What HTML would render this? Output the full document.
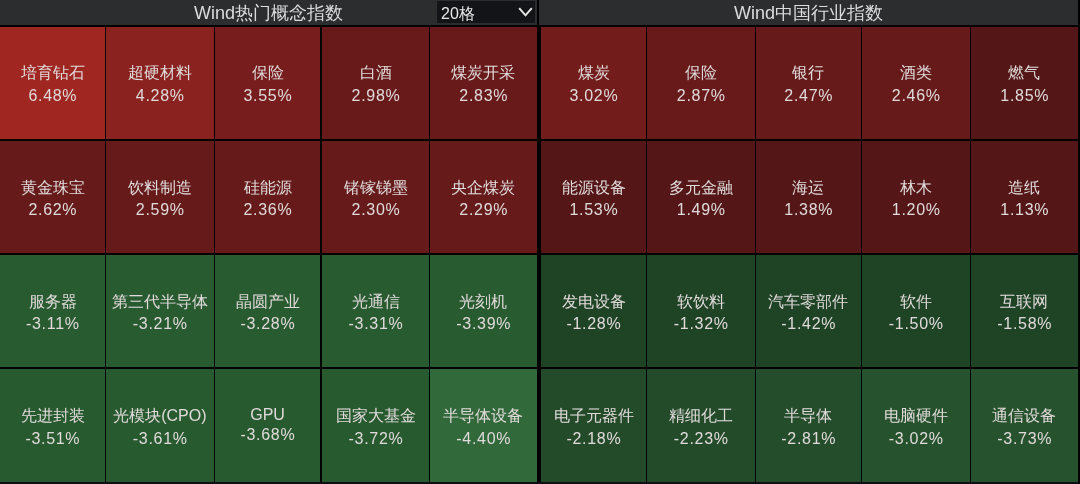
<!DOCTYPE html>
<html><head><meta charset="utf-8"><style>
html,body{margin:0;padding:0;}
body{width:1080px;height:484px;overflow:hidden;background:#000;position:relative;font-family:"Liberation Sans",sans-serif;}
.hdr{will-change:transform;position:absolute;top:0;height:25px;background:#2c2d2f;color:#dcdcdc;font-size:18px;line-height:27px;text-align:center;}
.c{position:absolute;box-sizing:border-box;color:#e0dada;font-size:16px;}
.t{position:absolute;left:0;right:0;top:50%;margin-top:-20.5px;text-align:center;will-change:transform;}
.n{height:23px;line-height:22px;white-space:nowrap}
.v{height:23px;line-height:22px;letter-spacing:0.7px;margin-right:-0.7px;white-space:nowrap}
.dd{will-change:transform;position:absolute;left:437px;top:1.3px;width:98.4px;height:22.3px;background:#131417;color:#e6e6e6;font-size:16px;line-height:22px;}
</style></head><body>
<div class="hdr" style="left:0;width:537.2px">Wind热门概念指数</div>
<div class="hdr" style="left:539px;width:539px">Wind中国行业指数</div>
<div class="dd"><span style="position:absolute;left:4px;top:1.6px">20格</span>
<svg style="position:absolute;left:81px;top:6.4px" width="15" height="10" viewBox="0 0 15 10"><path d="M1.2 1.1 L7.5 8.3 L13.8 1.1" fill="none" stroke="#e6e6e6" stroke-width="2"/></svg></div>
<div style="position:absolute;left:0;top:482px;width:1078px;height:2px;background:#0e0f13"></div>
<div class="c" style="left:0px;top:26.6px;width:105.00px;height:112.60px;background:#a02622"><div class="t"><div class="n">培育钻石</div><div class="v">6.48%</div></div></div><div class="c" style="left:106.2px;top:26.6px;width:107.80px;height:112.60px;background:#8a2220"><div class="t"><div class="n">超硬材料</div><div class="v">4.28%</div></div></div><div class="c" style="left:215.3px;top:26.6px;width:105.20px;height:112.60px;background:#771d1d"><div class="t"><div class="n">保险</div><div class="v">3.55%</div></div></div><div class="c" style="left:321.7px;top:26.6px;width:107.30px;height:112.60px;background:#681a1b"><div class="t"><div class="n">白酒</div><div class="v">2.98%</div></div></div><div class="c" style="left:430.3px;top:26.6px;width:106.90px;height:112.60px;background:#681a1b"><div class="t"><div class="n">煤炭开采</div><div class="v">2.83%</div></div></div><div class="c" style="left:540.8px;top:26.6px;width:105.20px;height:112.60px;background:#731c1c"><div class="t"><div class="n">煤炭</div><div class="v">3.02%</div></div></div><div class="c" style="left:647.2px;top:26.6px;width:107.80px;height:112.60px;background:#681a1b"><div class="t"><div class="n">保险</div><div class="v">2.87%</div></div></div><div class="c" style="left:756.2px;top:26.6px;width:104.80px;height:112.60px;background:#661a1a"><div class="t"><div class="n">银行</div><div class="v">2.47%</div></div></div><div class="c" style="left:862.2px;top:26.6px;width:107.80px;height:112.60px;background:#661a1a"><div class="t"><div class="n">酒类</div><div class="v">2.46%</div></div></div><div class="c" style="left:971.2px;top:26.6px;width:106.80px;height:112.60px;background:#541616"><div class="t"><div class="n">燃气</div><div class="v">1.85%</div></div></div><div class="c" style="left:0px;top:140.9px;width:105.00px;height:112.40px;background:#661a1a"><div class="t" style="margin-top:-20px"><div class="n">黄金珠宝</div><div class="v" style="margin-top:-1.4px">2.62%</div></div></div><div class="c" style="left:106.2px;top:140.9px;width:107.80px;height:112.40px;background:#661a1a"><div class="t" style="margin-top:-20px"><div class="n">饮料制造</div><div class="v" style="margin-top:-1.4px">2.59%</div></div></div><div class="c" style="left:215.3px;top:140.9px;width:105.20px;height:112.40px;background:#661a1a"><div class="t" style="margin-top:-20px"><div class="n">硅能源</div><div class="v" style="margin-top:-1.4px">2.36%</div></div></div><div class="c" style="left:321.7px;top:140.9px;width:107.30px;height:112.40px;background:#661a1a"><div class="t" style="margin-top:-20px"><div class="n">锗镓锑墨</div><div class="v" style="margin-top:-1.4px">2.30%</div></div></div><div class="c" style="left:430.3px;top:140.9px;width:106.90px;height:112.40px;background:#661a1a"><div class="t" style="margin-top:-20px"><div class="n">央企煤炭</div><div class="v" style="margin-top:-1.4px">2.29%</div></div></div><div class="c" style="left:540.8px;top:140.9px;width:105.20px;height:112.40px;background:#541616"><div class="t" style="margin-top:-20px"><div class="n">能源设备</div><div class="v" style="margin-top:-1.4px">1.53%</div></div></div><div class="c" style="left:647.2px;top:140.9px;width:107.80px;height:112.40px;background:#541616"><div class="t" style="margin-top:-20px"><div class="n">多元金融</div><div class="v" style="margin-top:-1.4px">1.49%</div></div></div><div class="c" style="left:756.2px;top:140.9px;width:104.80px;height:112.40px;background:#541616"><div class="t" style="margin-top:-20px"><div class="n">海运</div><div class="v" style="margin-top:-1.4px">1.38%</div></div></div><div class="c" style="left:862.2px;top:140.9px;width:107.80px;height:112.40px;background:#541616"><div class="t" style="margin-top:-20px"><div class="n">林木</div><div class="v" style="margin-top:-1.4px">1.20%</div></div></div><div class="c" style="left:971.2px;top:140.9px;width:106.80px;height:112.40px;background:#541616"><div class="t" style="margin-top:-20px"><div class="n">造纸</div><div class="v" style="margin-top:-1.4px">1.13%</div></div></div><div class="c" style="left:0px;top:254.9px;width:105.00px;height:112.40px;background:#295b31"><div class="t" style="margin-top:-20px"><div class="n">服务器</div><div class="v" style="margin-top:-1.4px">-3.11%</div></div></div><div class="c" style="left:106.2px;top:254.9px;width:107.80px;height:112.40px;background:#295b31"><div class="t" style="margin-top:-20px"><div class="n">第三代半导体</div><div class="v" style="margin-top:-1.4px">-3.21%</div></div></div><div class="c" style="left:215.3px;top:254.9px;width:105.20px;height:112.40px;background:#295b31"><div class="t" style="margin-top:-20px"><div class="n">晶圆产业</div><div class="v" style="margin-top:-1.4px">-3.28%</div></div></div><div class="c" style="left:321.7px;top:254.9px;width:107.30px;height:112.40px;background:#295b31"><div class="t" style="margin-top:-20px"><div class="n">光通信</div><div class="v" style="margin-top:-1.4px">-3.31%</div></div></div><div class="c" style="left:430.3px;top:254.9px;width:106.90px;height:112.40px;background:#295b31"><div class="t" style="margin-top:-20px"><div class="n">光刻机</div><div class="v" style="margin-top:-1.4px">-3.39%</div></div></div><div class="c" style="left:540.8px;top:254.9px;width:105.20px;height:112.40px;background:#1e4325"><div class="t" style="margin-top:-20px"><div class="n">发电设备</div><div class="v" style="margin-top:-1.4px">-1.28%</div></div></div><div class="c" style="left:647.2px;top:254.9px;width:107.80px;height:112.40px;background:#1e4325"><div class="t" style="margin-top:-20px"><div class="n">软饮料</div><div class="v" style="margin-top:-1.4px">-1.32%</div></div></div><div class="c" style="left:756.2px;top:254.9px;width:104.80px;height:112.40px;background:#1e4325"><div class="t" style="margin-top:-20px"><div class="n">汽车零部件</div><div class="v" style="margin-top:-1.4px">-1.42%</div></div></div><div class="c" style="left:862.2px;top:254.9px;width:107.80px;height:112.40px;background:#1e4325"><div class="t" style="margin-top:-20px"><div class="n">软件</div><div class="v" style="margin-top:-1.4px">-1.50%</div></div></div><div class="c" style="left:971.2px;top:254.9px;width:106.80px;height:112.40px;background:#1e4325"><div class="t" style="margin-top:-20px"><div class="n">互联网</div><div class="v" style="margin-top:-1.4px">-1.58%</div></div></div><div class="c" style="left:0px;top:369px;width:105.00px;height:113.00px;background:#285a30"><div class="t"><div class="n">先进封装</div><div class="v">-3.51%</div></div></div><div class="c" style="left:106.2px;top:369px;width:107.80px;height:113.00px;background:#285a30"><div class="t"><div class="n">光模块(CPO)</div><div class="v">-3.61%</div></div></div><div class="c" style="left:215.3px;top:369px;width:105.20px;height:113.00px;background:#285a30"><div class="t"><div class="n" style="height:19px;line-height:19px">GPU</div><div class="v">-3.68%</div></div></div><div class="c" style="left:321.7px;top:369px;width:107.30px;height:113.00px;background:#285a30"><div class="t"><div class="n">国家大基金</div><div class="v">-3.72%</div></div></div><div class="c" style="left:430.3px;top:369px;width:106.90px;height:113.00px;background:#31693a"><div class="t"><div class="n">半导体设备</div><div class="v">-4.40%</div></div></div><div class="c" style="left:540.8px;top:369px;width:105.20px;height:113.00px;background:#234b2a"><div class="t"><div class="n">电子元器件</div><div class="v">-2.18%</div></div></div><div class="c" style="left:647.2px;top:369px;width:107.80px;height:113.00px;background:#234b2a"><div class="t"><div class="n">精细化工</div><div class="v">-2.23%</div></div></div><div class="c" style="left:756.2px;top:369px;width:104.80px;height:113.00px;background:#244d2b"><div class="t"><div class="n">半导体</div><div class="v">-2.81%</div></div></div><div class="c" style="left:862.2px;top:369px;width:107.80px;height:113.00px;background:#26532d"><div class="t"><div class="n">电脑硬件</div><div class="v">-3.02%</div></div></div><div class="c" style="left:971.2px;top:369px;width:106.80px;height:113.00px;background:#26532d"><div class="t"><div class="n">通信设备</div><div class="v">-3.73%</div></div></div>
</body></html>
